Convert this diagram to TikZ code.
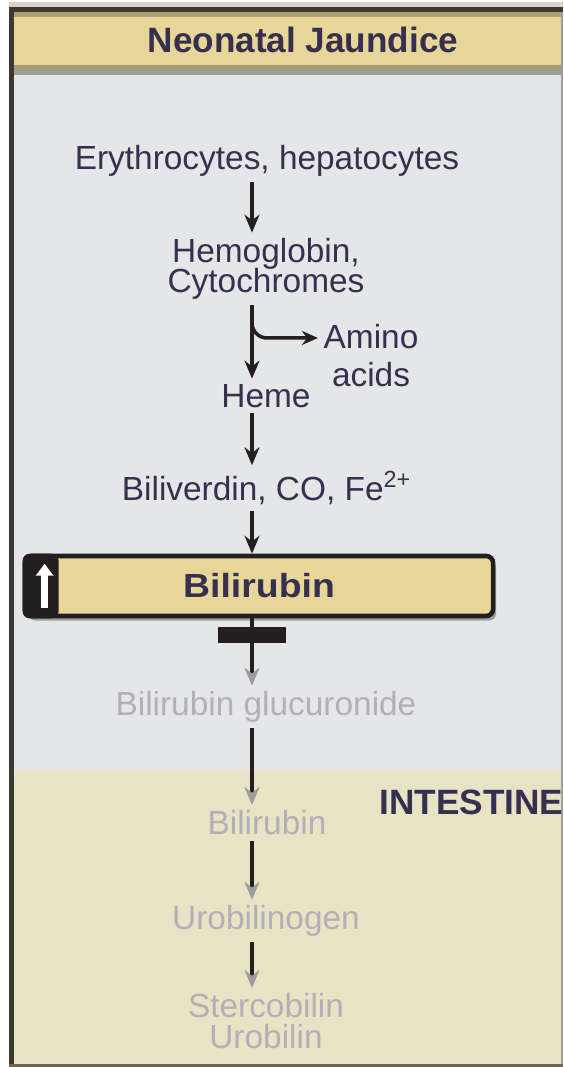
\documentclass[tikz,border=0pt]{standalone}
\usepackage{fontspec}
\setmainfont{Liberation Sans}
\usepackage{tikz}
\usetikzlibrary{arrows.meta,positioning,shadows}
\definecolor{panelgray}{HTML}{E5E6E8}
\definecolor{panelbeige}{HTML}{E8E3C5}
\definecolor{seamline}{HTML}{E8E5D8}
\definecolor{titleyellow}{HTML}{E8D698}
\definecolor{titleolive}{HTML}{ADA176}
\definecolor{titleedge}{HTML}{A39A76}
\definecolor{titleshade}{HTML}{A09E98}
\definecolor{framedark}{HTML}{3C3832}
\definecolor{framebottom}{HTML}{6B6658}
\definecolor{topstrip}{HTML}{DDD2CA}
\definecolor{inkdark}{HTML}{35304F}
\definecolor{inkfade}{HTML}{B3AFB6}
\definecolor{stemdark}{HTML}{231F20}
\definecolor{tipfade}{HTML}{9C9C9E}
\newcommand{\pathfont}{\fontsize{9.5}{8.6}\selectfont\lineskiplimit=-20pt}
\tikzset{%
  metabolite/.style={
    inner sep=0.5mm,
    text=inkdark,
    font=\pathfont,
    align=center
  },
  faded/.style={metabolite, text=inkfade},
  flow/.style={
    line width=1.4pt,
    draw=stemdark,
    -{Stealth[length=1.8mm,width=1.5mm]}
  },
  fadeflow/.style={flow, -{Stealth[length=1.8mm,width=1.5mm,color=tipfade]}},
  branch/.style={
    line width=1pt,
    draw=stemdark,
    rounded corners=0.15cm,
    -{Stealth[length=1.6mm,width=1.4mm]}
  },
  blockbar/.style={fill=stemdark, minimum width=0.68cm, minimum height=0.16cm, inner sep=0pt},
  highbox/.style={
    draw=stemdark,
    line width=1.3pt,
    fill=titleyellow,
    rounded corners=2pt,
    minimum width=4.68cm,
    minimum height=0.6cm,
    inner sep=0pt,
    text=inkdark,
    font=\fontsize{9.5}{11}\selectfont\bfseries,
    drop shadow={shadow xshift=0.03cm, shadow yshift=-0.045cm, fill=titleshade, opacity=1}
  },
  headline/.style={inner sep=0pt, text=inkdark, font=\fontsize{10}{12}\selectfont\bfseries},
}

\begin{document}
\begin{tikzpicture}[x=0.01cm, y=-0.01cm]
\useasboundingbox[fill=white] (0,0) rectangle (563,1067);
% panels and frame
\fill[topstrip] (9,2) rectangle (563,7);
\fill[panelgray] (11,72) rectangle (562,770);
\fill[panelbeige] (11,770) rectangle (562,1065);
\fill[seamline] (11,768) rectangle (562,773);
\fill[titleyellow] (11,12) rectangle (562,70);
\fill[titleolive] (11,12) rectangle (562,17);
\fill[titleedge] (11,65) rectangle (562,70);
\fill[titleshade] (11,70) rectangle (562,75);
\fill[framedark] (9,7) rectangle (563,12);
\fill[framedark] (9,7) rectangle (14,1067);
\fill[framebottom] (9,1064) rectangle (563,1067);
\draw[titleshade, line width=0.6pt] (562,12) -- (562,1064);

\node[headline] (title) at (303,40) {Neonatal Jaundice};

\coordinate (axis) at (252,0);
\node[metabolite] (ery) at (267,161) {Erythrocytes, hepatocytes};
\node[metabolite] (hemo) at (266,269) {Hemoglobin,\\Cytochromes};
\node[metabolite] (heme) at (266,396) {Heme};
\node[metabolite, font=\fontsize{9.5}{10.8}\selectfont] (amino) at (371,356) {Amino\\acids};
\node[metabolite] (bili) at (267,488) {Biliverdin, CO, Fe\textsuperscript{2+}};
\node[highbox] (bilibox) at (259,586) {\scalebox{1.12}[1]{Bilirubin}};
\node[faded] (gluc) at (266,707) {Bilirubin glucuronide};
\node[headline, anchor=west] (intestine) at (379,802) {INTESTINE};
\node[faded] (bilint) at (267,823) {Bilirubin};
\node[faded] (urobg) at (266,921) {Urobilinogen};
\node[faded] (sterco) at (266,1021) {Stercobilin\\Urobilin};

% raised marker on the box
\fill[stemdark, rounded corners=2pt] (bilibox.north west) rectangle ([xshift=0.36cm]bilibox.south west);
\draw[white, line width=1.8pt, -{Triangle[length=1.2mm,width=1.7mm]}]
  ([xshift=0.22cm,yshift=0.1cm]bilibox.south west) -- ([xshift=0.22cm,yshift=-0.1cm]bilibox.north west);

\draw[flow] (ery.south -| axis) -- (hemo.north -| axis);
\draw[flow] (hemo.south -| axis) -- (heme.north -| axis);
\coordinate (brk) at (252,316);
\draw[branch] (brk) |- ([yshift=0.18cm]amino.west);
\draw[flow] (heme.south -| axis) -- (bili.north -| axis);
\draw[flow] (bili.south -| axis) -- (bilibox.north -| axis);
\draw[fadeflow] (bilibox.south -| axis) -- (gluc.north -| axis);
\node[blockbar] (bar) at (252,635) {};
\draw[fadeflow] (gluc.south -| axis) -- (bilint.north -| axis);
\draw[fadeflow] (bilint.south -| axis) -- (urobg.north -| axis);
\draw[fadeflow] (urobg.south -| axis) -- (sterco.north -| axis);
\end{tikzpicture}
\end{document}
